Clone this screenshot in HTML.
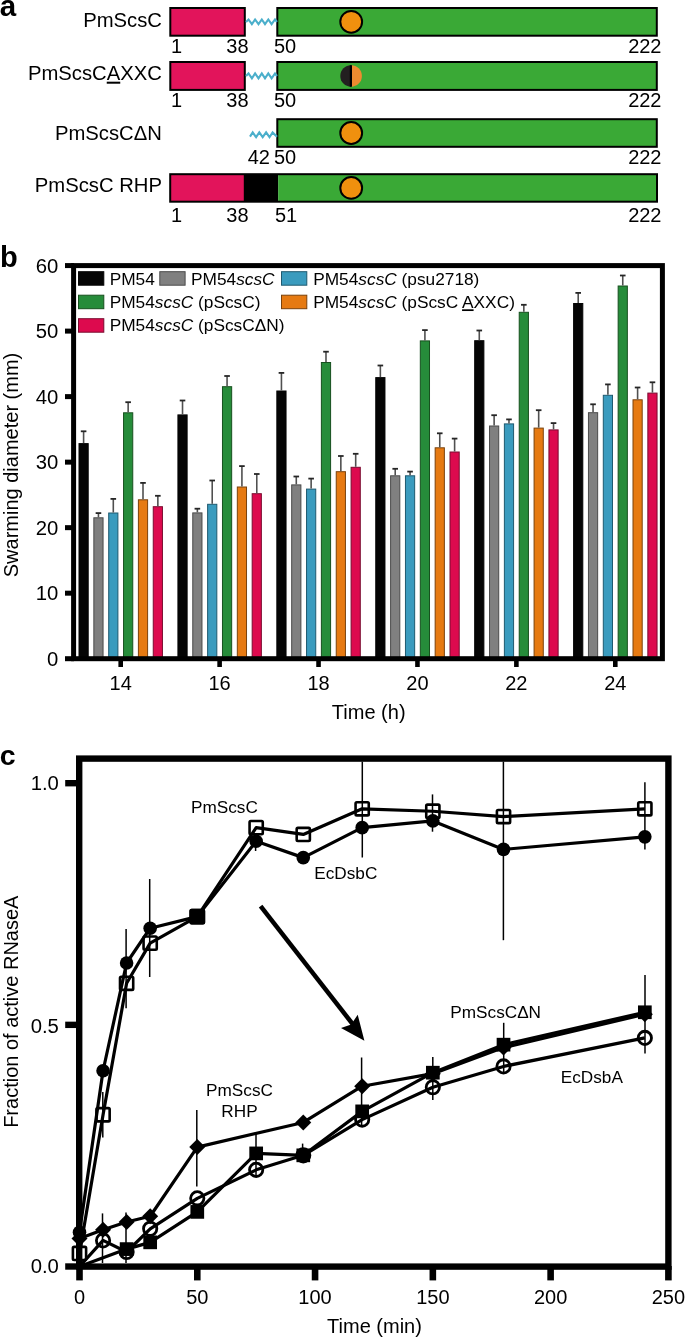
<!DOCTYPE html><html><head><meta charset="utf-8"><style>html,body{margin:0;padding:0;background:#fff;}svg{display:block;will-change:transform;}text{font-family:"Liberation Sans", sans-serif;}</style></head><body>
<svg width="685" height="1337" viewBox="0 0 685 1337">
<rect width="685" height="1337" fill="#fff"/>
<text x="-0.3" y="15.9" font-size="29.5" font-weight="bold">a</text>
<text x="161.9" y="27.3" font-size="20.25" text-anchor="end">PmScsC</text>
<rect x="277.3" y="8.0" width="379.5" height="27.700000000000003" fill="#3AA936" stroke="#000" stroke-width="2"/>
<rect x="170.3" y="8.0" width="74.5" height="27.700000000000003" fill="#E2145B" stroke="#000" stroke-width="2"/>
<polyline points="246.0,21.9 248.5,19.5 251.9,24.2 255.1,19.5 258.5,24.2 261.8,19.5 265.0,24.2 268.3,19.5 271.6,24.2 275.0,19.5 277.0,21.9" fill="none" stroke="#4BAFCB" stroke-width="2.1" stroke-linejoin="miter"/>
<circle cx="351.2" cy="21.85" r="10.9" fill="#F0900E" stroke="#000" stroke-width="2"/>
<text x="171" y="53.2" font-size="20">1</text>
<text x="248.6" y="53.2" font-size="20" text-anchor="end">38</text>
<text x="274" y="53.2" font-size="20">50</text>
<text x="661.5" y="53.2" font-size="20" text-anchor="end">222</text>
<text x="161.9" y="79.7" font-size="20.25" text-anchor="end">PmScsC<tspan text-decoration="underline">A</tspan>XXC</text>
<rect x="277.3" y="62.0" width="379.5" height="27.900000000000006" fill="#3AA936" stroke="#000" stroke-width="2"/>
<rect x="170.3" y="62.0" width="74.5" height="27.900000000000006" fill="#E2145B" stroke="#000" stroke-width="2"/>
<polyline points="246.0,76.0 248.5,73.5 251.9,78.4 255.1,73.5 258.5,78.4 261.8,73.5 265.0,78.4 268.3,73.5 271.6,78.4 275.0,73.5 277.0,76.0" fill="none" stroke="#4BAFCB" stroke-width="2.1" stroke-linejoin="miter"/>
<path d="M351.1,65.15 A10.8,10.8 0 0 0 351.1,86.75 Z" fill="#231F20"/>
<path d="M351.1,65.15 A10.8,10.8 0 0 1 351.1,86.75 Z" fill="#EE8B30"/>
<line x1="350.9" y1="65.15" x2="350.9" y2="86.75" stroke="#000" stroke-width="2.2"/>
<text x="171" y="107.3" font-size="20">1</text>
<text x="248.6" y="107.3" font-size="20" text-anchor="end">38</text>
<text x="274" y="107.3" font-size="20">50</text>
<text x="661.5" y="107.3" font-size="20" text-anchor="end">222</text>
<text x="161.9" y="139.8" font-size="20.25" text-anchor="end">PmScsCΔN</text>
<rect x="277.3" y="119.2" width="379.5" height="27.60000000000001" fill="#3AA936" stroke="#000" stroke-width="2"/>
<polyline points="250.0,136.6 252.7,132.4 256.1,137.2 259.3,132.4 262.7,137.2 266.1,132.4 269.5,137.2 272.6,132.4 277.0,136.8" fill="none" stroke="#4BAFCB" stroke-width="2.1" stroke-linejoin="miter"/>
<circle cx="351.2" cy="133.0" r="10.9" fill="#F0900E" stroke="#000" stroke-width="2"/>
<text x="270" y="164.2" font-size="20" text-anchor="end">42</text>
<text x="274" y="164.2" font-size="20">50</text>
<text x="661.5" y="164.2" font-size="20" text-anchor="end">222</text>
<text x="161.9" y="191.6" font-size="20.25" text-anchor="end">PmScsC RHP</text>
<rect x="170.2" y="174.2" width="74" height="27.5" fill="#E2145B"/>
<rect x="243.8" y="174.2" width="34.5" height="27.5" fill="#000"/>
<rect x="278.2" y="174.2" width="378.8" height="27.5" fill="#3AA936"/>
<rect x="170.2" y="174.2" width="486.8" height="27.5" fill="none" stroke="#000" stroke-width="2"/>
<circle cx="351.2" cy="187.95" r="10.9" fill="#F0900E" stroke="#000" stroke-width="2"/>
<text x="171" y="221.5" font-size="20">1</text>
<text x="248.6" y="221.5" font-size="20" text-anchor="end">38</text>
<text x="275" y="221.5" font-size="20">51</text>
<text x="661.5" y="221.5" font-size="20" text-anchor="end">222</text>
<text x="0" y="267.4" font-size="29" font-weight="bold">b</text>
<rect x="79.00" y="443.60" width="9.2" height="215.60" fill="#050505" stroke="#050505" stroke-width="1"/>
<line x1="83.60" y1="431.30" x2="83.60" y2="443.10" stroke="#505050" stroke-width="1.6"/>
<line x1="80.80" y1="431.30" x2="86.40" y2="431.30" stroke="#262626" stroke-width="1.8"/>
<rect x="93.85" y="517.80" width="9.2" height="141.40" fill="#808080" stroke="#4a4a4a" stroke-width="1"/>
<line x1="98.45" y1="513.10" x2="98.45" y2="517.30" stroke="#505050" stroke-width="1.6"/>
<line x1="95.65" y1="513.10" x2="101.25" y2="513.10" stroke="#262626" stroke-width="1.8"/>
<rect x="108.70" y="513.00" width="9.2" height="146.20" fill="#3A9BBE" stroke="#1f5a70" stroke-width="1"/>
<line x1="113.30" y1="498.90" x2="113.30" y2="512.50" stroke="#505050" stroke-width="1.6"/>
<line x1="110.50" y1="498.90" x2="116.10" y2="498.90" stroke="#262626" stroke-width="1.8"/>
<rect x="123.55" y="412.80" width="9.2" height="246.40" fill="#268C3A" stroke="#17501f" stroke-width="1"/>
<line x1="128.15" y1="402.20" x2="128.15" y2="412.30" stroke="#505050" stroke-width="1.6"/>
<line x1="125.35" y1="402.20" x2="130.95" y2="402.20" stroke="#262626" stroke-width="1.8"/>
<rect x="138.40" y="499.80" width="9.2" height="159.40" fill="#E67A12" stroke="#7a420c" stroke-width="1"/>
<line x1="143.00" y1="482.90" x2="143.00" y2="499.30" stroke="#505050" stroke-width="1.6"/>
<line x1="140.20" y1="482.90" x2="145.80" y2="482.90" stroke="#262626" stroke-width="1.8"/>
<rect x="153.25" y="506.70" width="9.2" height="152.50" fill="#DD0A4E" stroke="#7a0c30" stroke-width="1"/>
<line x1="157.85" y1="495.80" x2="157.85" y2="506.20" stroke="#505050" stroke-width="1.6"/>
<line x1="155.05" y1="495.80" x2="160.65" y2="495.80" stroke="#262626" stroke-width="1.8"/>
<rect x="177.92" y="414.90" width="9.2" height="244.30" fill="#050505" stroke="#050505" stroke-width="1"/>
<line x1="182.52" y1="400.50" x2="182.52" y2="414.40" stroke="#505050" stroke-width="1.6"/>
<line x1="179.72" y1="400.50" x2="185.32" y2="400.50" stroke="#262626" stroke-width="1.8"/>
<rect x="192.77" y="512.90" width="9.2" height="146.30" fill="#808080" stroke="#4a4a4a" stroke-width="1"/>
<line x1="197.37" y1="508.70" x2="197.37" y2="512.40" stroke="#505050" stroke-width="1.6"/>
<line x1="194.57" y1="508.70" x2="200.17" y2="508.70" stroke="#262626" stroke-width="1.8"/>
<rect x="207.62" y="504.30" width="9.2" height="154.90" fill="#3A9BBE" stroke="#1f5a70" stroke-width="1"/>
<line x1="212.22" y1="480.50" x2="212.22" y2="503.80" stroke="#505050" stroke-width="1.6"/>
<line x1="209.42" y1="480.50" x2="215.02" y2="480.50" stroke="#262626" stroke-width="1.8"/>
<rect x="222.47" y="386.70" width="9.2" height="272.50" fill="#268C3A" stroke="#17501f" stroke-width="1"/>
<line x1="227.07" y1="376.00" x2="227.07" y2="386.20" stroke="#505050" stroke-width="1.6"/>
<line x1="224.27" y1="376.00" x2="229.87" y2="376.00" stroke="#262626" stroke-width="1.8"/>
<rect x="237.32" y="487.00" width="9.2" height="172.20" fill="#E67A12" stroke="#7a420c" stroke-width="1"/>
<line x1="241.92" y1="466.10" x2="241.92" y2="486.50" stroke="#505050" stroke-width="1.6"/>
<line x1="239.12" y1="466.10" x2="244.72" y2="466.10" stroke="#262626" stroke-width="1.8"/>
<rect x="252.17" y="493.70" width="9.2" height="165.50" fill="#DD0A4E" stroke="#7a0c30" stroke-width="1"/>
<line x1="256.77" y1="474.00" x2="256.77" y2="493.20" stroke="#505050" stroke-width="1.6"/>
<line x1="253.97" y1="474.00" x2="259.57" y2="474.00" stroke="#262626" stroke-width="1.8"/>
<rect x="276.84" y="391.00" width="9.2" height="268.20" fill="#050505" stroke="#050505" stroke-width="1"/>
<line x1="281.44" y1="372.90" x2="281.44" y2="390.50" stroke="#505050" stroke-width="1.6"/>
<line x1="278.64" y1="372.90" x2="284.24" y2="372.90" stroke="#262626" stroke-width="1.8"/>
<rect x="291.69" y="484.90" width="9.2" height="174.30" fill="#808080" stroke="#4a4a4a" stroke-width="1"/>
<line x1="296.29" y1="476.50" x2="296.29" y2="484.40" stroke="#505050" stroke-width="1.6"/>
<line x1="293.49" y1="476.50" x2="299.09" y2="476.50" stroke="#262626" stroke-width="1.8"/>
<rect x="306.54" y="489.10" width="9.2" height="170.10" fill="#3A9BBE" stroke="#1f5a70" stroke-width="1"/>
<line x1="311.14" y1="478.60" x2="311.14" y2="488.60" stroke="#505050" stroke-width="1.6"/>
<line x1="308.34" y1="478.60" x2="313.94" y2="478.60" stroke="#262626" stroke-width="1.8"/>
<rect x="321.39" y="362.50" width="9.2" height="296.70" fill="#268C3A" stroke="#17501f" stroke-width="1"/>
<line x1="325.99" y1="351.70" x2="325.99" y2="362.00" stroke="#505050" stroke-width="1.6"/>
<line x1="323.19" y1="351.70" x2="328.79" y2="351.70" stroke="#262626" stroke-width="1.8"/>
<rect x="336.24" y="471.70" width="9.2" height="187.50" fill="#E67A12" stroke="#7a420c" stroke-width="1"/>
<line x1="340.84" y1="456.00" x2="340.84" y2="471.20" stroke="#505050" stroke-width="1.6"/>
<line x1="338.04" y1="456.00" x2="343.64" y2="456.00" stroke="#262626" stroke-width="1.8"/>
<rect x="351.09" y="467.30" width="9.2" height="191.90" fill="#DD0A4E" stroke="#7a0c30" stroke-width="1"/>
<line x1="355.69" y1="453.80" x2="355.69" y2="466.80" stroke="#505050" stroke-width="1.6"/>
<line x1="352.89" y1="453.80" x2="358.49" y2="453.80" stroke="#262626" stroke-width="1.8"/>
<rect x="375.76" y="377.60" width="9.2" height="281.60" fill="#050505" stroke="#050505" stroke-width="1"/>
<line x1="380.36" y1="365.50" x2="380.36" y2="377.10" stroke="#505050" stroke-width="1.6"/>
<line x1="377.56" y1="365.50" x2="383.16" y2="365.50" stroke="#262626" stroke-width="1.8"/>
<rect x="390.61" y="475.80" width="9.2" height="183.40" fill="#808080" stroke="#4a4a4a" stroke-width="1"/>
<line x1="395.21" y1="468.80" x2="395.21" y2="475.30" stroke="#505050" stroke-width="1.6"/>
<line x1="392.41" y1="468.80" x2="398.01" y2="468.80" stroke="#262626" stroke-width="1.8"/>
<rect x="405.46" y="475.80" width="9.2" height="183.40" fill="#3A9BBE" stroke="#1f5a70" stroke-width="1"/>
<line x1="410.06" y1="471.60" x2="410.06" y2="475.30" stroke="#505050" stroke-width="1.6"/>
<line x1="407.26" y1="471.60" x2="412.86" y2="471.60" stroke="#262626" stroke-width="1.8"/>
<rect x="420.31" y="340.90" width="9.2" height="318.30" fill="#268C3A" stroke="#17501f" stroke-width="1"/>
<line x1="424.91" y1="330.10" x2="424.91" y2="340.40" stroke="#505050" stroke-width="1.6"/>
<line x1="422.11" y1="330.10" x2="427.71" y2="330.10" stroke="#262626" stroke-width="1.8"/>
<rect x="435.16" y="447.80" width="9.2" height="211.40" fill="#E67A12" stroke="#7a420c" stroke-width="1"/>
<line x1="439.76" y1="433.30" x2="439.76" y2="447.30" stroke="#505050" stroke-width="1.6"/>
<line x1="436.96" y1="433.30" x2="442.56" y2="433.30" stroke="#262626" stroke-width="1.8"/>
<rect x="450.01" y="452.00" width="9.2" height="207.20" fill="#DD0A4E" stroke="#7a0c30" stroke-width="1"/>
<line x1="454.61" y1="438.60" x2="454.61" y2="451.50" stroke="#505050" stroke-width="1.6"/>
<line x1="451.81" y1="438.60" x2="457.41" y2="438.60" stroke="#262626" stroke-width="1.8"/>
<rect x="474.68" y="340.70" width="9.2" height="318.50" fill="#050505" stroke="#050505" stroke-width="1"/>
<line x1="479.28" y1="330.50" x2="479.28" y2="340.20" stroke="#505050" stroke-width="1.6"/>
<line x1="476.48" y1="330.50" x2="482.08" y2="330.50" stroke="#262626" stroke-width="1.8"/>
<rect x="489.53" y="426.00" width="9.2" height="233.20" fill="#808080" stroke="#4a4a4a" stroke-width="1"/>
<line x1="494.13" y1="415.20" x2="494.13" y2="425.50" stroke="#505050" stroke-width="1.6"/>
<line x1="491.33" y1="415.20" x2="496.93" y2="415.20" stroke="#262626" stroke-width="1.8"/>
<rect x="504.38" y="423.90" width="9.2" height="235.30" fill="#3A9BBE" stroke="#1f5a70" stroke-width="1"/>
<line x1="508.98" y1="419.40" x2="508.98" y2="423.40" stroke="#505050" stroke-width="1.6"/>
<line x1="506.18" y1="419.40" x2="511.78" y2="419.40" stroke="#262626" stroke-width="1.8"/>
<rect x="519.23" y="312.30" width="9.2" height="346.90" fill="#268C3A" stroke="#17501f" stroke-width="1"/>
<line x1="523.83" y1="304.80" x2="523.83" y2="311.80" stroke="#505050" stroke-width="1.6"/>
<line x1="521.03" y1="304.80" x2="526.63" y2="304.80" stroke="#262626" stroke-width="1.8"/>
<rect x="534.08" y="428.10" width="9.2" height="231.10" fill="#E67A12" stroke="#7a420c" stroke-width="1"/>
<line x1="538.68" y1="410.20" x2="538.68" y2="427.60" stroke="#505050" stroke-width="1.6"/>
<line x1="535.88" y1="410.20" x2="541.48" y2="410.20" stroke="#262626" stroke-width="1.8"/>
<rect x="548.93" y="429.90" width="9.2" height="229.30" fill="#DD0A4E" stroke="#7a0c30" stroke-width="1"/>
<line x1="553.53" y1="423.10" x2="553.53" y2="429.40" stroke="#505050" stroke-width="1.6"/>
<line x1="550.73" y1="423.10" x2="556.33" y2="423.10" stroke="#262626" stroke-width="1.8"/>
<rect x="573.60" y="303.50" width="9.2" height="355.70" fill="#050505" stroke="#050505" stroke-width="1"/>
<line x1="578.20" y1="292.90" x2="578.20" y2="303.00" stroke="#505050" stroke-width="1.6"/>
<line x1="575.40" y1="292.90" x2="581.00" y2="292.90" stroke="#262626" stroke-width="1.8"/>
<rect x="588.45" y="412.70" width="9.2" height="246.50" fill="#808080" stroke="#4a4a4a" stroke-width="1"/>
<line x1="593.05" y1="404.30" x2="593.05" y2="412.20" stroke="#505050" stroke-width="1.6"/>
<line x1="590.25" y1="404.30" x2="595.85" y2="404.30" stroke="#262626" stroke-width="1.8"/>
<rect x="603.30" y="395.30" width="9.2" height="263.90" fill="#3A9BBE" stroke="#1f5a70" stroke-width="1"/>
<line x1="607.90" y1="384.40" x2="607.90" y2="394.80" stroke="#505050" stroke-width="1.6"/>
<line x1="605.10" y1="384.40" x2="610.70" y2="384.40" stroke="#262626" stroke-width="1.8"/>
<rect x="618.15" y="286.00" width="9.2" height="373.20" fill="#268C3A" stroke="#17501f" stroke-width="1"/>
<line x1="622.75" y1="275.50" x2="622.75" y2="285.50" stroke="#505050" stroke-width="1.6"/>
<line x1="619.95" y1="275.50" x2="625.55" y2="275.50" stroke="#262626" stroke-width="1.8"/>
<rect x="633.00" y="399.80" width="9.2" height="259.40" fill="#E67A12" stroke="#7a420c" stroke-width="1"/>
<line x1="637.60" y1="387.50" x2="637.60" y2="399.30" stroke="#505050" stroke-width="1.6"/>
<line x1="634.80" y1="387.50" x2="640.40" y2="387.50" stroke="#262626" stroke-width="1.8"/>
<rect x="647.85" y="393.10" width="9.2" height="266.10" fill="#DD0A4E" stroke="#7a0c30" stroke-width="1"/>
<line x1="652.45" y1="382.30" x2="652.45" y2="392.60" stroke="#505050" stroke-width="1.6"/>
<line x1="649.65" y1="382.30" x2="655.25" y2="382.30" stroke="#262626" stroke-width="1.8"/>
<rect x="73.6" y="265.6" width="588.8" height="393.1" fill="none" stroke="#000" stroke-width="5"/>
<line x1="65" y1="658.70" x2="74" y2="658.70" stroke="#000" stroke-width="5"/>
<text x="58.4" y="665.70" font-size="20.3" text-anchor="end">0</text>
<line x1="65" y1="593.18" x2="74" y2="593.18" stroke="#000" stroke-width="5"/>
<text x="58.4" y="600.18" font-size="20.3" text-anchor="end">10</text>
<line x1="65" y1="527.66" x2="74" y2="527.66" stroke="#000" stroke-width="5"/>
<text x="58.4" y="534.66" font-size="20.3" text-anchor="end">20</text>
<line x1="65" y1="462.14" x2="74" y2="462.14" stroke="#000" stroke-width="5"/>
<text x="58.4" y="469.14" font-size="20.3" text-anchor="end">30</text>
<line x1="65" y1="396.62" x2="74" y2="396.62" stroke="#000" stroke-width="5"/>
<text x="58.4" y="403.62" font-size="20.3" text-anchor="end">40</text>
<line x1="65" y1="331.10" x2="74" y2="331.10" stroke="#000" stroke-width="5"/>
<text x="58.4" y="338.10" font-size="20.3" text-anchor="end">50</text>
<line x1="65" y1="265.58" x2="74" y2="265.58" stroke="#000" stroke-width="5"/>
<text x="58.4" y="272.58" font-size="20.3" text-anchor="end">60</text>
<line x1="120.70" y1="658" x2="120.70" y2="667" stroke="#000" stroke-width="4.6"/>
<text x="120.70" y="690.3" font-size="20" text-anchor="middle">14</text>
<line x1="219.62" y1="658" x2="219.62" y2="667" stroke="#000" stroke-width="4.6"/>
<text x="219.62" y="690.3" font-size="20" text-anchor="middle">16</text>
<line x1="318.54" y1="658" x2="318.54" y2="667" stroke="#000" stroke-width="4.6"/>
<text x="318.54" y="690.3" font-size="20" text-anchor="middle">18</text>
<line x1="417.46" y1="658" x2="417.46" y2="667" stroke="#000" stroke-width="4.6"/>
<text x="417.46" y="690.3" font-size="20" text-anchor="middle">20</text>
<line x1="516.38" y1="658" x2="516.38" y2="667" stroke="#000" stroke-width="4.6"/>
<text x="516.38" y="690.3" font-size="20" text-anchor="middle">22</text>
<line x1="615.30" y1="658" x2="615.30" y2="667" stroke="#000" stroke-width="4.6"/>
<text x="615.30" y="690.3" font-size="20" text-anchor="middle">24</text>
<text x="368.7" y="719.2" font-size="20" text-anchor="middle">Time (h)</text>
<text transform="translate(17.5,465) rotate(-90)" x="0" y="0" font-size="20" text-anchor="middle">Swarming diameter (mm)</text>
<rect x="78.5" y="271.7" width="25.3" height="13.5" fill="#050505" stroke="#050505" stroke-width="1"/>
<text x="109.7" y="284.9" font-size="17.3">PM54</text>
<rect x="159.8" y="271.7" width="25.3" height="13.5" fill="#808080" stroke="#4a4a4a" stroke-width="1"/>
<text x="191" y="284.9" font-size="17.3">PM54<tspan font-style="italic">scsC</tspan></text>
<rect x="281.5" y="271.7" width="25.3" height="13.5" fill="#3A9BBE" stroke="#1f5a70" stroke-width="1"/>
<text x="313.2" y="284.9" font-size="17.3">PM54<tspan font-style="italic">scsC</tspan> (psu2718)</text>
<rect x="78.5" y="295.2" width="25.3" height="13.5" fill="#268C3A" stroke="#17501f" stroke-width="1"/>
<text x="109.7" y="308.3" font-size="17.3">PM54<tspan font-style="italic">scsC</tspan> (pScsC)</text>
<rect x="281.5" y="295.2" width="25.3" height="13.5" fill="#E67A12" stroke="#7a420c" stroke-width="1"/>
<text x="313.2" y="308.3" font-size="17.3">PM54<tspan font-style="italic">scsC</tspan> (pScsC <tspan text-decoration="underline">A</tspan>XXC)</text>
<rect x="78.5" y="318.7" width="25.3" height="13.5" fill="#DD0A4E" stroke="#7a0c30" stroke-width="1"/>
<text x="109.7" y="331.0" font-size="17.3">PM54<tspan font-style="italic">scsC</tspan> (pScsCΔN)</text>
<text x="-0.2" y="764.6" font-size="28.5" font-weight="bold">c</text>
<rect x="79.2" y="758.6" width="589.2" height="508.0" fill="none" stroke="#000" stroke-width="6.4"/>
<line x1="65.2" y1="1266.50" x2="80" y2="1266.50" stroke="#000" stroke-width="6.4"/>
<text x="58.9" y="1273.10" font-size="20.3" text-anchor="end">0.0</text>
<line x1="65.2" y1="1024.85" x2="80" y2="1024.85" stroke="#000" stroke-width="6.4"/>
<text x="58.9" y="1032.75" font-size="20.3" text-anchor="end">0.5</text>
<line x1="65.2" y1="783.20" x2="80" y2="783.20" stroke="#000" stroke-width="6.4"/>
<text x="58.9" y="789.80" font-size="20.3" text-anchor="end">1.0</text>
<line x1="79.50" y1="1266" x2="79.50" y2="1280.4" stroke="#000" stroke-width="6.6"/>
<text x="79.50" y="1304.4" font-size="20" text-anchor="middle">0</text>
<line x1="197.28" y1="1266" x2="197.28" y2="1280.4" stroke="#000" stroke-width="6.6"/>
<text x="197.28" y="1304.4" font-size="20" text-anchor="middle">50</text>
<line x1="315.06" y1="1266" x2="315.06" y2="1280.4" stroke="#000" stroke-width="6.6"/>
<text x="315.06" y="1304.4" font-size="20" text-anchor="middle">100</text>
<line x1="432.84" y1="1266" x2="432.84" y2="1280.4" stroke="#000" stroke-width="6.6"/>
<text x="432.84" y="1304.4" font-size="20" text-anchor="middle">150</text>
<line x1="550.62" y1="1266" x2="550.62" y2="1280.4" stroke="#000" stroke-width="6.6"/>
<text x="550.62" y="1304.4" font-size="20" text-anchor="middle">200</text>
<line x1="668.40" y1="1266" x2="668.40" y2="1280.4" stroke="#000" stroke-width="6.6"/>
<text x="668.40" y="1304.4" font-size="20" text-anchor="middle">250</text>
<text x="374.5" y="1333.2" font-size="20" text-anchor="middle">Time (min)</text>
<text transform="translate(17.8,1011.7) rotate(-90)" x="0" y="0" font-size="20" text-anchor="middle">Fraction of active RNaseA</text>
<line x1="102.8" y1="1091.9" x2="102.8" y2="1137.5" stroke="#000" stroke-width="1.5"/>
<line x1="126.1" y1="929" x2="126.1" y2="1008.3" stroke="#000" stroke-width="1.5"/>
<line x1="149.7" y1="879" x2="149.7" y2="977" stroke="#000" stroke-width="1.5"/>
<line x1="255.6" y1="838" x2="255.6" y2="851" stroke="#000" stroke-width="1.5"/>
<line x1="362.3" y1="761.6" x2="362.3" y2="857.5" stroke="#000" stroke-width="1.5"/>
<line x1="432.5" y1="794.4" x2="432.5" y2="831.7" stroke="#000" stroke-width="1.5"/>
<line x1="503.4" y1="761.6" x2="503.4" y2="940.2" stroke="#000" stroke-width="1.5"/>
<line x1="644.9" y1="782.3" x2="644.9" y2="849.4" stroke="#000" stroke-width="1.5"/>
<line x1="102.5" y1="1213.4" x2="102.5" y2="1263" stroke="#000" stroke-width="1.5"/>
<line x1="126.0" y1="1212.6" x2="126.0" y2="1263" stroke="#000" stroke-width="1.5"/>
<line x1="196.8" y1="1109.9" x2="196.8" y2="1186.5" stroke="#000" stroke-width="1.5"/>
<line x1="256.0" y1="1132" x2="256.0" y2="1176" stroke="#000" stroke-width="1.5"/>
<line x1="302.6" y1="1143.6" x2="302.6" y2="1160" stroke="#000" stroke-width="1.5"/>
<line x1="361.6" y1="1057.5" x2="361.6" y2="1125" stroke="#000" stroke-width="1.5"/>
<line x1="432.8" y1="1057" x2="432.8" y2="1099.9" stroke="#000" stroke-width="1.5"/>
<line x1="503.7" y1="1022.8" x2="503.7" y2="1072" stroke="#000" stroke-width="1.5"/>
<line x1="645.0" y1="975" x2="645.0" y2="1053.4" stroke="#000" stroke-width="1.5"/>
<polyline points="79.50,1266.50 103.06,1240.40 126.61,1252.00 150.17,1228.80 197.28,1198.35 256.17,1169.84 303.28,1155.34 362.17,1119.58 432.84,1087.20 503.51,1066.41 644.84,1037.90" fill="none" stroke="#000" stroke-width="3.2" stroke-linejoin="round"/>
<polyline points="79.50,1266.50 126.61,1249.10 150.17,1242.34 197.28,1211.89 256.17,1153.41 303.28,1155.34 362.17,1111.36 432.84,1072.70 503.51,1044.67 644.84,1012.28" fill="none" stroke="#000" stroke-width="3.2" stroke-linejoin="round"/>
<polyline points="79.50,1238.47 103.06,1229.77 126.61,1222.04 150.17,1216.24 197.28,1147.12 303.28,1122.48 362.17,1086.23 432.84,1073.66 503.51,1047.57 644.84,1014.22" fill="none" stroke="#000" stroke-width="3.2" stroke-linejoin="round"/>
<polyline points="79.50,1232.19 103.06,1070.76 126.61,962.99 150.17,928.19 197.28,916.59 256.17,841.20 303.28,857.63 362.17,827.66 432.84,820.90 503.51,849.41 644.84,836.85" fill="none" stroke="#000" stroke-width="3.2" stroke-linejoin="round"/>
<polyline points="79.50,1253.45 103.06,1114.74 126.61,983.29 150.17,943.17 197.28,916.59 256.17,827.66 303.28,834.43 362.17,808.81 432.84,811.23 503.51,816.55 644.84,808.81" fill="none" stroke="#000" stroke-width="3.2" stroke-linejoin="round"/>
<circle cx="103.06" cy="1240.40" r="6.65" fill="none" stroke="#000" stroke-width="2.8"/>
<circle cx="126.61" cy="1252.00" r="6.65" fill="none" stroke="#000" stroke-width="2.8"/>
<circle cx="150.17" cy="1228.80" r="6.65" fill="none" stroke="#000" stroke-width="2.8"/>
<circle cx="197.28" cy="1198.35" r="6.65" fill="none" stroke="#000" stroke-width="2.8"/>
<circle cx="256.17" cy="1169.84" r="6.65" fill="none" stroke="#000" stroke-width="2.8"/>
<circle cx="303.28" cy="1155.34" r="6.65" fill="none" stroke="#000" stroke-width="2.8"/>
<circle cx="362.17" cy="1119.58" r="6.65" fill="none" stroke="#000" stroke-width="2.8"/>
<circle cx="432.84" cy="1087.20" r="6.65" fill="none" stroke="#000" stroke-width="2.8"/>
<circle cx="503.51" cy="1066.41" r="6.65" fill="none" stroke="#000" stroke-width="2.8"/>
<circle cx="644.84" cy="1037.90" r="6.65" fill="none" stroke="#000" stroke-width="2.8"/>
<rect x="119.76" y="1242.25" width="13.7" height="13.7" fill="#000"/>
<rect x="143.32" y="1235.49" width="13.7" height="13.7" fill="#000"/>
<rect x="190.43" y="1205.04" width="13.7" height="13.7" fill="#000"/>
<rect x="249.32" y="1146.56" width="13.7" height="13.7" fill="#000"/>
<rect x="296.43" y="1148.49" width="13.7" height="13.7" fill="#000"/>
<rect x="355.32" y="1104.51" width="13.7" height="13.7" fill="#000"/>
<rect x="425.99" y="1065.85" width="13.7" height="13.7" fill="#000"/>
<rect x="496.66" y="1037.82" width="13.7" height="13.7" fill="#000"/>
<rect x="637.99" y="1005.43" width="13.7" height="13.7" fill="#000"/>
<path d="M79.50,1230.47 L87.50,1238.47 L79.50,1246.47 L71.50,1238.47 Z" fill="#000"/>
<path d="M103.06,1221.77 L111.06,1229.77 L103.06,1237.77 L95.06,1229.77 Z" fill="#000"/>
<path d="M126.61,1214.04 L134.61,1222.04 L126.61,1230.04 L118.61,1222.04 Z" fill="#000"/>
<path d="M150.17,1208.24 L158.17,1216.24 L150.17,1224.24 L142.17,1216.24 Z" fill="#000"/>
<path d="M197.28,1139.12 L205.28,1147.12 L197.28,1155.12 L189.28,1147.12 Z" fill="#000"/>
<path d="M303.28,1114.48 L311.28,1122.48 L303.28,1130.48 L295.28,1122.48 Z" fill="#000"/>
<path d="M362.17,1078.23 L370.17,1086.23 L362.17,1094.23 L354.17,1086.23 Z" fill="#000"/>
<path d="M432.84,1065.66 L440.84,1073.66 L432.84,1081.66 L424.84,1073.66 Z" fill="#000"/>
<path d="M503.51,1039.57 L511.51,1047.57 L503.51,1055.57 L495.51,1047.57 Z" fill="#000"/>
<path d="M644.84,1006.22 L652.84,1014.22 L644.84,1022.22 L636.84,1014.22 Z" fill="#000"/>
<circle cx="79.50" cy="1232.19" r="6.8" fill="#000"/>
<circle cx="103.06" cy="1070.76" r="6.8" fill="#000"/>
<circle cx="126.61" cy="962.99" r="6.8" fill="#000"/>
<circle cx="150.17" cy="928.19" r="6.8" fill="#000"/>
<circle cx="197.28" cy="916.59" r="6.8" fill="#000"/>
<circle cx="256.17" cy="841.20" r="6.8" fill="#000"/>
<circle cx="303.28" cy="857.63" r="6.8" fill="#000"/>
<circle cx="362.17" cy="827.66" r="6.8" fill="#000"/>
<circle cx="432.84" cy="820.90" r="6.8" fill="#000"/>
<circle cx="503.51" cy="849.41" r="6.8" fill="#000"/>
<circle cx="644.84" cy="836.85" r="6.8" fill="#000"/>
<rect x="72.90" y="1246.85" width="13.2" height="13.2" rx="1.2" fill="none" stroke="#000" stroke-width="2.6"/>
<rect x="96.46" y="1108.14" width="13.2" height="13.2" rx="1.2" fill="none" stroke="#000" stroke-width="2.6"/>
<rect x="120.01" y="976.69" width="13.2" height="13.2" rx="1.2" fill="none" stroke="#000" stroke-width="2.6"/>
<rect x="143.57" y="936.57" width="13.2" height="13.2" rx="1.2" fill="none" stroke="#000" stroke-width="2.6"/>
<rect x="190.68" y="909.99" width="13.2" height="13.2" rx="1.2" fill="none" stroke="#000" stroke-width="2.6"/>
<rect x="249.57" y="821.06" width="13.2" height="13.2" rx="1.2" fill="none" stroke="#000" stroke-width="2.6"/>
<rect x="296.68" y="827.83" width="13.2" height="13.2" rx="1.2" fill="none" stroke="#000" stroke-width="2.6"/>
<rect x="355.57" y="802.21" width="13.2" height="13.2" rx="1.2" fill="none" stroke="#000" stroke-width="2.6"/>
<rect x="426.24" y="804.63" width="13.2" height="13.2" rx="1.2" fill="none" stroke="#000" stroke-width="2.6"/>
<rect x="496.91" y="809.95" width="13.2" height="13.2" rx="1.2" fill="none" stroke="#000" stroke-width="2.6"/>
<rect x="638.24" y="802.21" width="13.2" height="13.2" rx="1.2" fill="none" stroke="#000" stroke-width="2.6"/>
<rect x="189.38" y="908.69" width="15.8" height="15.8" rx="2" fill="#000"/>
<text x="191" y="812.9" font-size="17.2">PmScsC</text>
<text x="314.3" y="878.6" font-size="17.2">EcDsbC</text>
<text x="450.3" y="1018.2" font-size="17.2">PmScsCΔN</text>
<text x="560.8" y="1082.8" font-size="17.2">EcDsbA</text>
<text x="239.5" y="1096.1" font-size="17.2" text-anchor="middle">PmScsC</text>
<text x="239.5" y="1116.5" font-size="17.2" text-anchor="middle">RHP</text>
<line x1="260.6" y1="906.2" x2="353" y2="1024.5" stroke="#000" stroke-width="4.5"/>
<path d="M364.4,1040.7 L341,1027.9 L351.2,1024.6 L357.7,1014.7 Z" fill="#000"/>
</svg></body></html>
